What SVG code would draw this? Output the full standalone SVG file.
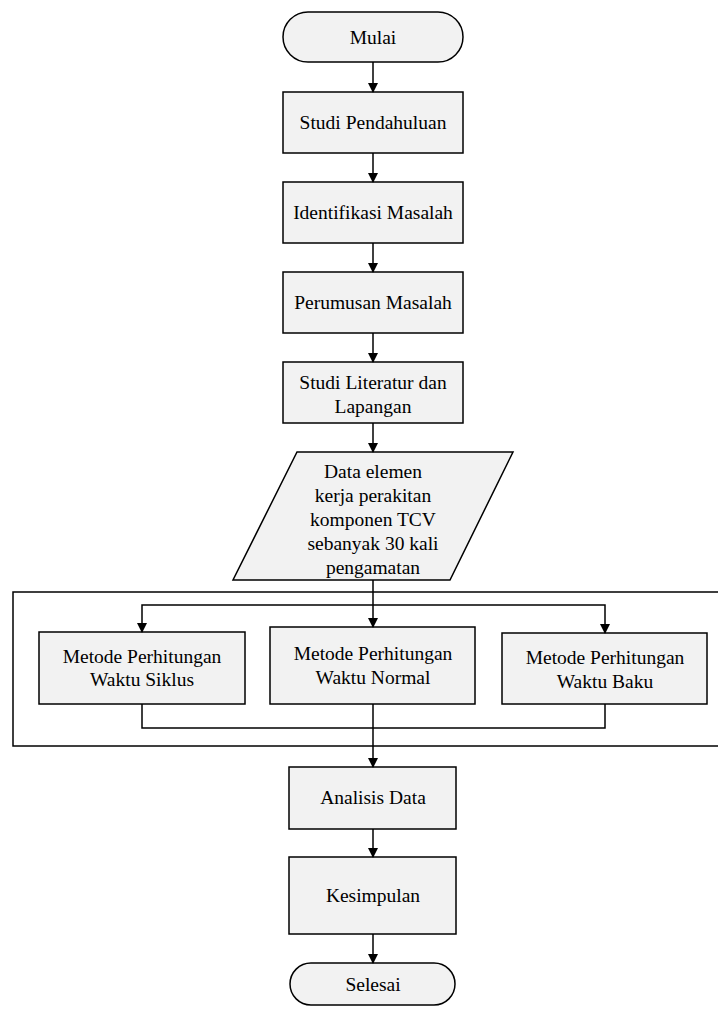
<svg xmlns="http://www.w3.org/2000/svg" width="718" height="1010" viewBox="0 0 718 1010">
<defs>
<marker id="ah" markerWidth="10" markerHeight="10" refX="9" refY="5" orient="auto" markerUnits="userSpaceOnUse">
<path d="M0,0 L10,5 L0,10 Z" fill="#000"/>
</marker>
<style>
.n{fill:#f2f2f2;stroke:#000;stroke-width:1.5}
.t{font-family:"Liberation Serif","Times New Roman",serif;font-size:19.5px;fill:#000;text-anchor:middle}
.c{fill:none;stroke:#000;stroke-width:1.5}
.a{marker-end:url(#ah)}
</style>
</defs>
<rect id="container" x="13" y="592" width="720" height="154" fill="none" stroke="#000" stroke-width="1.5"/>
<g id="mulai"><rect class="n" x="283" y="12" width="180" height="50" rx="25"/><text class="t" x="373" y="44">Mulai</text></g>
<g id="studi-pendahuluan"><rect class="n" x="283" y="92" width="180" height="61"/><text class="t" x="373" y="129">Studi Pendahuluan</text></g>
<g id="identifikasi"><rect class="n" x="283" y="182" width="180" height="61"/><text class="t" x="373" y="219">Identifikasi Masalah</text></g>
<g id="perumusan"><rect class="n" x="283" y="272" width="180" height="61"/><text class="t" x="373" y="309">Perumusan Masalah</text></g>
<g id="literatur"><rect class="n" x="283" y="362" width="180" height="61"/><text class="t" x="373" y="389">Studi Literatur dan</text><text class="t" x="373" y="413">Lapangan</text></g>
<g id="data"><polygon class="n" points="297,452 513,452 450,580 233,580"/>
<text class="t" x="373" y="478">Data elemen</text>
<text class="t" x="373" y="502">kerja perakitan</text>
<text class="t" x="373" y="526">komponen TCV</text>
<text class="t" x="373" y="550">sebanyak 30 kali</text>
<text class="t" x="373" y="574">pengamatan</text></g>
<g id="siklus"><rect class="n" x="39" y="632" width="206" height="72"/><text class="t" x="142" y="663">Metode Perhitungan</text><text class="t" x="142" y="686">Waktu Siklus</text></g>
<g id="normal"><rect class="n" x="270" y="627" width="205" height="77"/><text class="t" x="373" y="660">Metode Perhitungan</text><text class="t" x="373" y="684">Waktu Normal</text></g>
<g id="baku"><rect class="n" x="502" y="633" width="205" height="71"/><text class="t" x="605" y="664">Metode Perhitungan</text><text class="t" x="605" y="688">Waktu Baku</text></g>
<g id="analisis"><rect class="n" x="289" y="767" width="167" height="62"/><text class="t" x="373" y="804">Analisis Data</text></g>
<g id="kesimpulan"><rect class="n" x="289" y="857" width="167" height="77"/><text class="t" x="373" y="902">Kesimpulan</text></g>
<g id="selesai"><rect class="n" x="290" y="963" width="165" height="42" rx="21"/><text class="t" x="373" y="991">Selesai</text></g>
<g id="connectors">
<line class="c a" x1="373" y1="62" x2="373" y2="92"/>
<line class="c a" x1="373" y1="153" x2="373" y2="182"/>
<line class="c a" x1="373" y1="243" x2="373" y2="272"/>
<line class="c a" x1="373" y1="333" x2="373" y2="362"/>
<line class="c a" x1="373" y1="423" x2="373" y2="452"/>
<line class="c a" x1="373" y1="580" x2="373" y2="627"/>
<polyline class="c a" points="373,605 142,605 142,632"/>
<polyline class="c a" points="373,605 605,605 605,633"/>
<polyline class="c" points="142,704 142,728 605,728 605,704"/>
<line class="c a" x1="373" y1="704" x2="373" y2="767"/>
<line class="c a" x1="373" y1="829" x2="373" y2="857"/>
<line class="c a" x1="373" y1="934" x2="373" y2="963"/>
</g>
</svg>
